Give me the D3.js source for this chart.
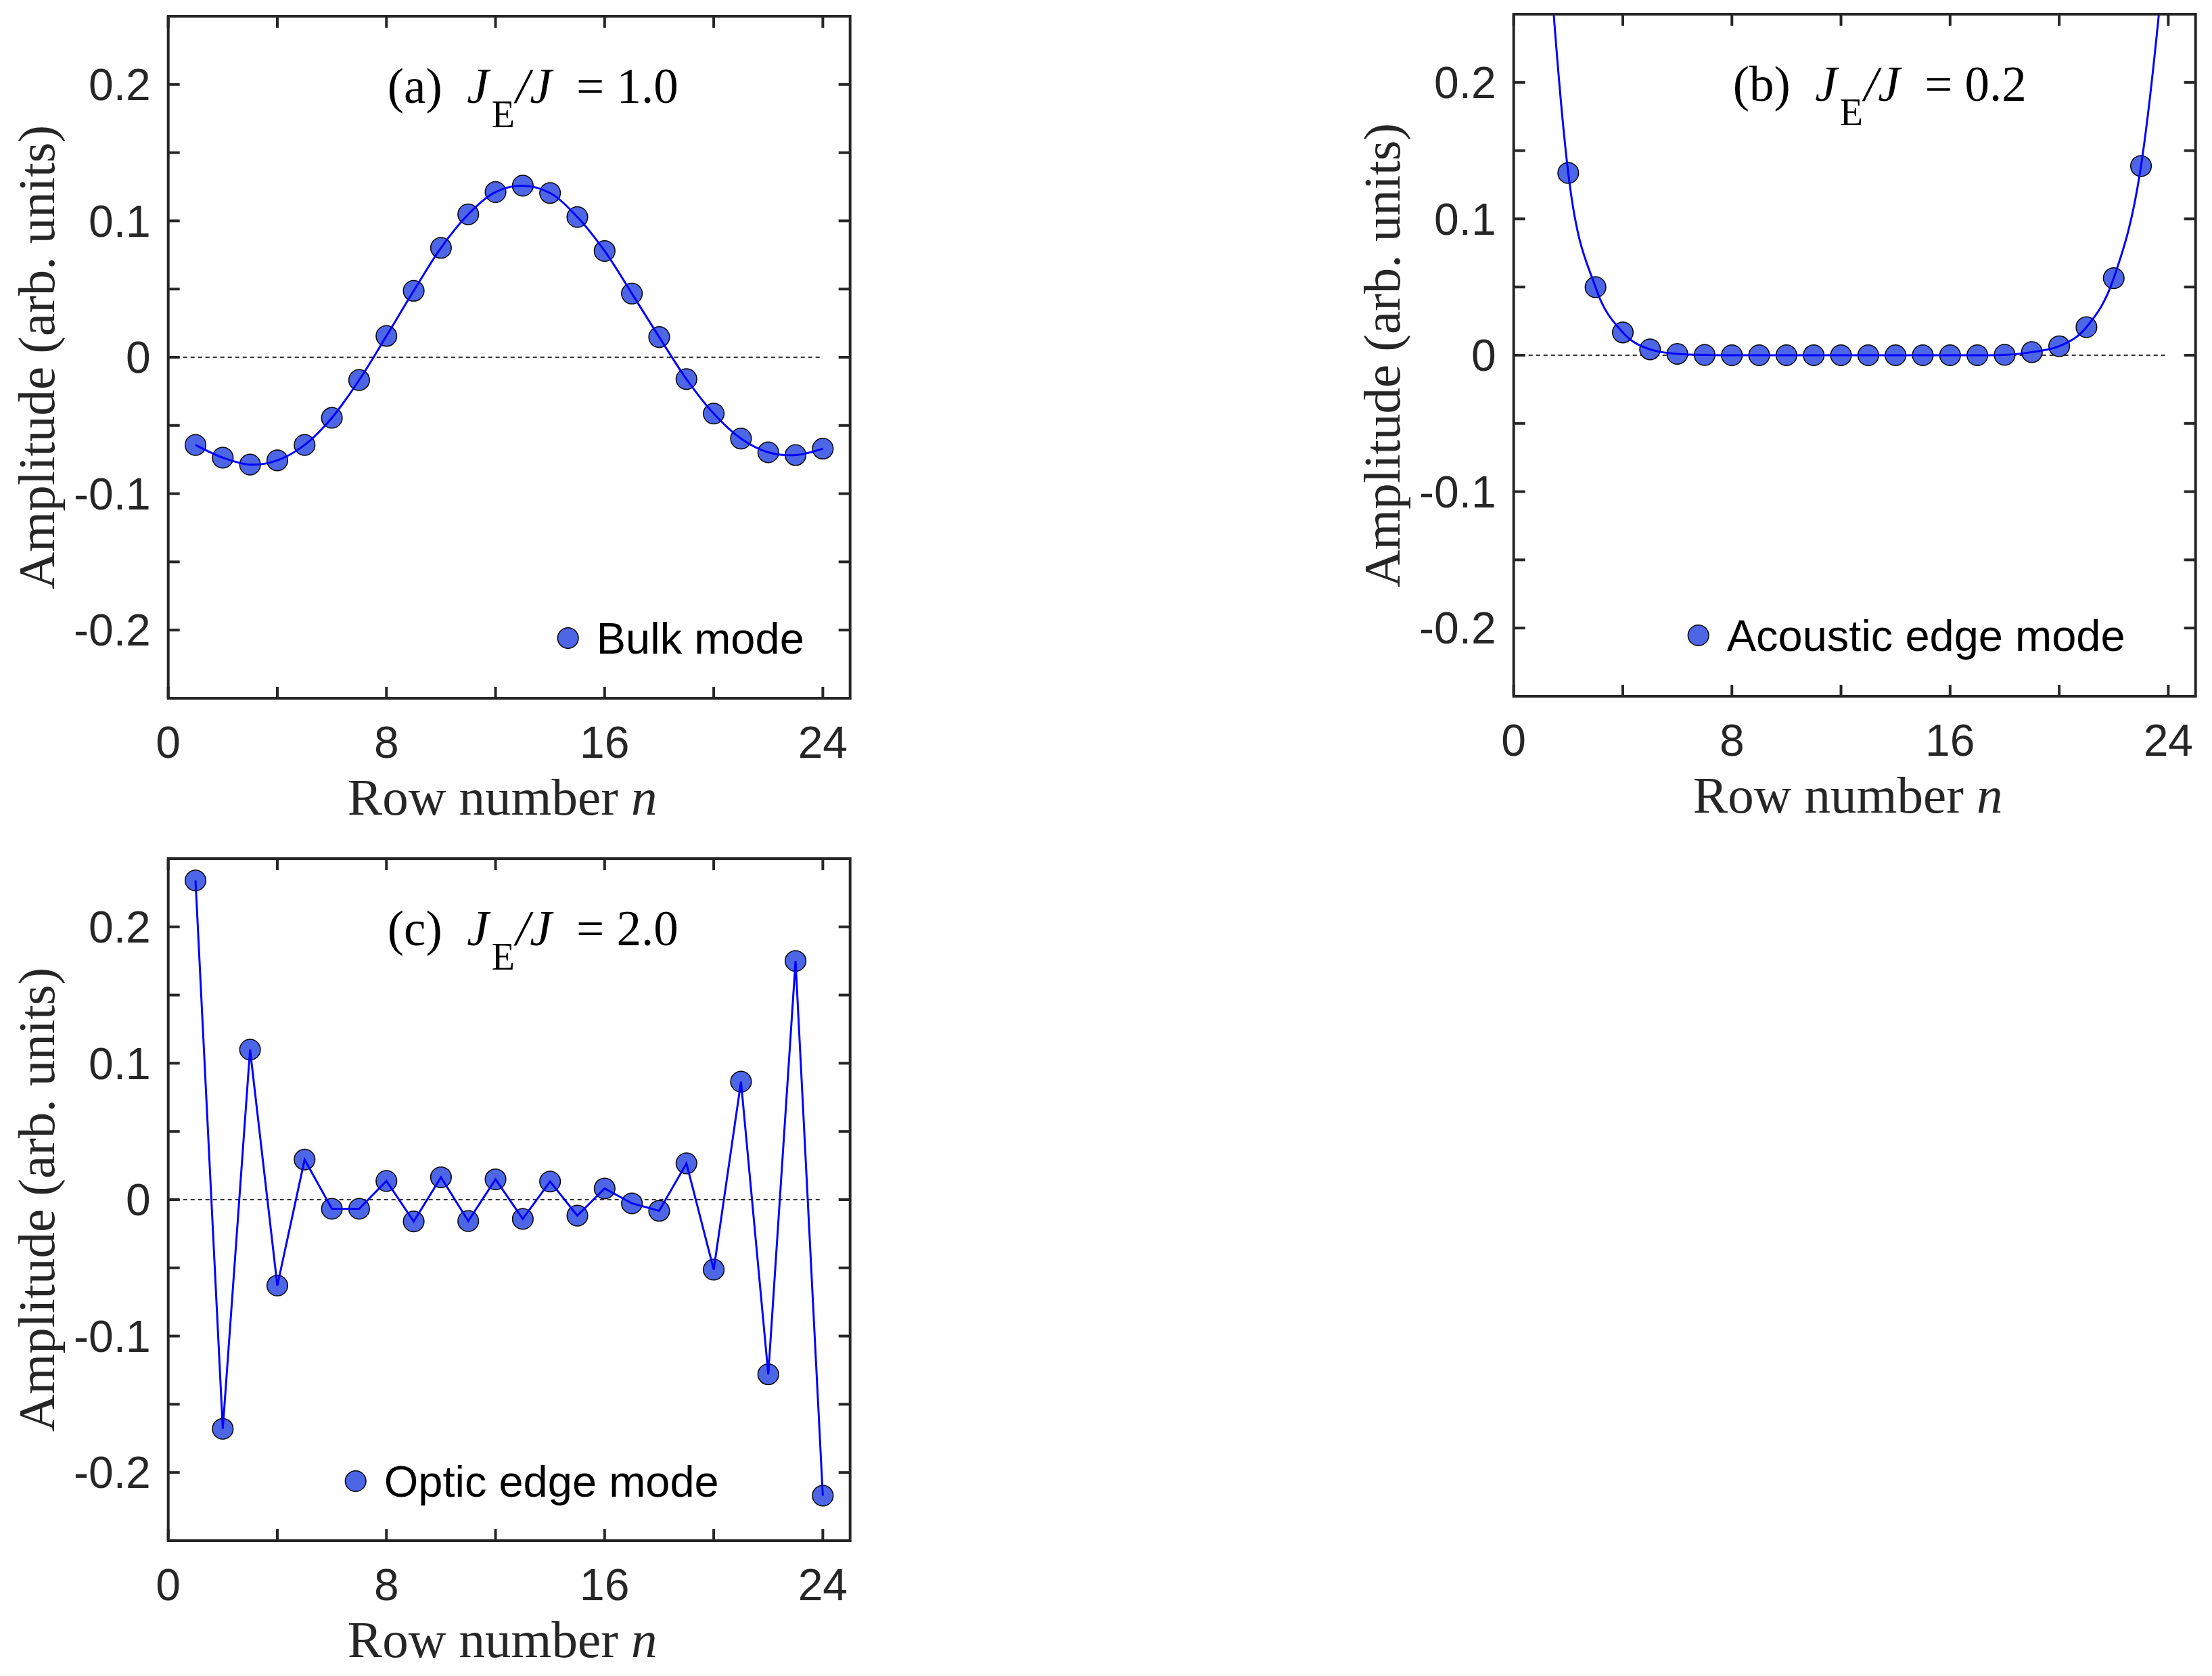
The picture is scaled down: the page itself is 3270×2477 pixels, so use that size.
<!DOCTYPE html>
<html>
<head>
<meta charset="utf-8">
<script src="https://cdn.jsdelivr.net/npm/d3@7"></script>
<style>
  html, body { margin: 0; padding: 0; background: #fff; }
  svg { display: block; }
  .tick-label { font-family: "Liberation Sans", Arial, sans-serif; font-size: 66px; fill: #262626; }
  .axis-label { font-family: "Liberation Serif", "Times New Roman", serif; font-size: 77px; fill: #262626; }
  .title { font-family: "Liberation Serif", "Times New Roman", serif; font-size: 73px; fill: #000; white-space: pre; }
  .legend { font-family: "Liberation Sans", Arial, sans-serif; font-size: 65px; fill: #000; }
</style>
</head>
<body>
<svg id="chart" width="3270" height="2477"></svg>
<script>
/* -------------------- data ------------------------------------------ */
const rows = [1,2,3,4,5,6,7,8,9,10,11,12,13,14,15,16,17,18,19,20,21,22,23,24];

const bulkMode = [-0.0643,-0.0736,-0.0787,-0.0756,-0.0643,-0.0444,-0.0167,0.0156,
                  0.0487,0.0802,0.1048,0.1211,0.1258,0.1204,0.1028,0.0779,
                  0.0467,0.0148,-0.0160,-0.0413,-0.0596,-0.0697,-0.0717,-0.0670];

const acousticMode = [0.38,0.1336,0.0499,0.0167,0.0043,0.0010,0.0002,0,
                      0,0,0,0,0,0,0,0,
                      0,0.0003,0.0023,0.0066,0.0206,0.0565,0.1387,0.32];

const opticMode = [0.234,-0.168,0.110,-0.063,0.0294,-0.0067,-0.0067,0.0137,
                   -0.0160,0.0164,-0.0157,0.0149,-0.0141,0.0133,-0.0117,0.0082,
                   -0.0027,-0.0082,0.0266,-0.0513,0.0865,-0.128,0.175,-0.217];

const xTicks      = [0,4,8,12,16,20,24];
const xTickLabels = [0,8,16,24];
const yTicks      = [-0.25,-0.2,-0.15,-0.1,-0.05,0,0.05,0.1,0.15,0.2,0.25];
const yTickLabels = [-0.2,-0.1,0,0.1,0.2];

const panelTags    = ["(a)","(b)","(c)"];
const ratioValues  = ["1.0","0.2","2.0"];
const legendLabels = ["Bulk mode","Acoustic edge mode","Optic edge mode"];

/* -------------------- geometry -------------------------------------- */
const W = 1008, H = 1008;
const panels = [
  {values: bulkMode,     curve: d3.curveCatmullRom, left: 248.7,  top: 24,   leg: [591, 919]},
  {values: acousticMode, curve: d3.curveMonotoneX,  left: 2237.7, top: 21,   leg: [273, 918]},
  {values: opticMode,    curve: d3.curveLinear,     left: 248.7,  top: 1269, leg: [277, 920]}
];

const AXIS = "#262626", MARK = "rgb(77,102,230)", LINE = "#0000ff";
const TICK = 17;

const svg = d3.select("#chart");
svg.append("rect").attr("width", 3270).attr("height", 2477).attr("fill", "#fff");

const x = d3.scaleLinear().domain([0, 25]).range([0, W]);
const y = d3.scaleLinear().domain([-0.25, 0.25]).range([H, 0]);
const fmt = v => v === 0 ? "0" : v.toFixed(1);   // plain hyphen, like MATLAB

panels.forEach((p, i) => {
  const g = svg.append("g").attr("transform", `translate(${p.left},${p.top})`);

  const clipId = "clip" + i;
  g.append("clipPath").attr("id", clipId)
    .append("rect").attr("width", W).attr("height", H);

  const plot = g.append("g").attr("clip-path", `url(#${clipId})`);

  // zero reference line
  plot.append("line")
    .attr("x1", x(0)).attr("x2", x(24))
    .attr("y1", y(0)).attr("y2", y(0))
    .attr("stroke", "#333").attr("stroke-width", 1.8)
    .attr("stroke-dasharray", "6,5");

  const pts = rows.map((n, k) => [n, p.values[k]]);

  // markers
  plot.selectAll("circle.pt").data(pts).join("circle")
    .attr("class", "pt")
    .attr("cx", d => x(d[0])).attr("cy", d => y(d[1]))
    .attr("r", 15.3)
    .attr("fill", MARK).attr("stroke", "#000").attr("stroke-width", 1.5);

  // line drawn on top of markers
  plot.append("path")
    .datum(pts)
    .attr("fill", "none").attr("stroke", LINE).attr("stroke-width", 3)
    .attr("d", d3.line().x(d => x(d[0])).y(d => y(d[1])).curve(p.curve));

  // box
  g.append("rect").attr("width", W).attr("height", H)
    .attr("fill", "none").attr("stroke", AXIS).attr("stroke-width", 4);

  // ticks (inward, all four sides)
  const tg = g.append("g").attr("stroke", AXIS).attr("stroke-width", 4);
  xTicks.forEach(t => {
    tg.append("line").attr("x1", x(t)).attr("x2", x(t)).attr("y1", H).attr("y2", H - TICK);
    tg.append("line").attr("x1", x(t)).attr("x2", x(t)).attr("y1", 0).attr("y2", TICK);
  });
  yTicks.forEach(t => {
    tg.append("line").attr("x1", 0).attr("x2", TICK).attr("y1", y(t)).attr("y2", y(t));
    tg.append("line").attr("x1", W).attr("x2", W - TICK).attr("y1", y(t)).attr("y2", y(t));
  });

  // tick labels
  g.selectAll("text.xt").data(xTickLabels).join("text")
    .attr("class", "tick-label xt")
    .attr("x", d => x(d)).attr("y", H + 88)
    .attr("text-anchor", "middle").text(d => d);
  g.selectAll("text.yt").data(yTickLabels).join("text")
    .attr("class", "tick-label yt")
    .attr("x", -26).attr("y", d => y(d)).attr("dy", "0.35em")
    .attr("text-anchor", "end").text(fmt);

  // axis labels
  const xl = g.append("text").attr("class", "axis-label")
    .attr("x", W / 2 - 10).attr("y", H + 172).attr("text-anchor", "middle");
  xl.append("tspan").text("Row number ");
  xl.append("tspan").attr("font-style", "italic").text("n");

  g.append("text").attr("class", "axis-label")
    .attr("transform", `translate(-169,${H / 2}) rotate(-90)`)
    .attr("text-anchor", "middle")
    .text("Amplitude (arb. units)");

  // title
  const tt = g.append("text").attr("class", "title").attr("x", 324).attr("y", 128);
  tt.append("tspan").text(panelTags[i] + "  ");
  tt.append("tspan").attr("font-style", "italic").text("J");
  tt.append("tspan").attr("font-size", 56).attr("dx", 4).attr("dy", 36).text("E");
  tt.append("tspan").attr("font-style", "italic").attr("dx", 2).attr("dy", -36).text("/J");
  tt.append("tspan").text("  = " + ratioValues[i]);

  // legend
  g.append("circle").attr("cx", p.leg[0]).attr("cy", p.leg[1]).attr("r", 15.3)
    .attr("fill", MARK).attr("stroke", "#000").attr("stroke-width", 1.5);
  g.append("text").attr("class", "legend")
    .attr("x", p.leg[0] + 42).attr("y", p.leg[1] + 23)
    .text(legendLabels[i]);
});
</script>
</body>
</html>
